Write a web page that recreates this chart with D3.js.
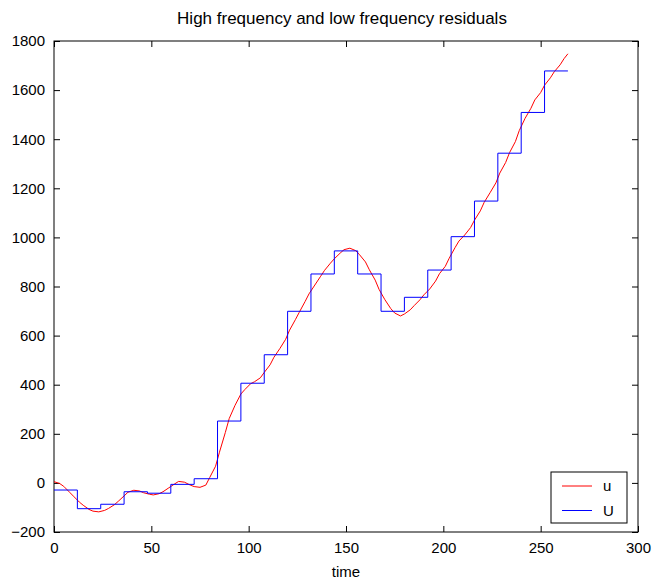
<!DOCTYPE html>
<html>
<head>
<meta charset="utf-8">
<script src="https://cdn.jsdelivr.net/npm/d3@7"></script>
<style>
  body { margin: 0; background: #fff; }
  text { font-family: "Liberation Sans", Arial, sans-serif; }
</style>
</head>
<body>
<div id="chart"></div>
<script>
// data
const uTime = [0, 2, 3, 5, 8, 10, 13, 15, 18, 20, 23, 26, 28, 31, 33, 36, 38, 41, 44, 46,
  49, 51, 54, 56, 59, 62, 64, 67, 70, 72, 75, 78, 80, 83, 85, 88, 90, 93, 96, 98,
  101, 103, 106, 108, 111, 113, 116, 119, 121, 124, 126, 129, 131, 134, 137, 139, 142, 144, 147, 149,
  152, 155, 157, 160, 162, 165, 167, 170, 173, 175, 178, 180, 183, 185, 188, 190, 193, 196, 198, 201,
  203, 206, 208, 211, 214, 216, 219, 221, 224, 227, 229, 232, 234, 237, 239, 242, 245, 247, 250, 252,
  255, 257, 260, 262, 264];
const uValues = [5, 0, -3, -14, -38, -54, -78, -91, -108, -115, -118, -112, -104, -89, -75, -53, -38, -30, -33, -40,
  -46, -49, -44, -36, -20, -4, 6, 3, -9, -15, -18, -9, 22, 68, 125, 205, 262, 316, 362, 380,
  404, 412, 428, 450, 481, 512, 547, 585, 622, 665, 695, 739, 770, 806, 842, 866, 895, 913, 936, 950,
  956, 946, 929, 900, 868, 826, 788, 746, 710, 692, 680, 688, 705, 722, 746, 766, 790, 822, 852, 882,
  915, 958, 985, 1010, 1040, 1070, 1108, 1143, 1182, 1222, 1262, 1305, 1345, 1390, 1435, 1485, 1526, 1560, 1590, 1620,
  1650, 1675, 1703, 1728, 1748];

// low frequency levels, one per block of 12 samples
const UStarts = [0, 12, 24, 36, 48, 60, 72, 84, 96, 108, 120, 132, 144, 156, 168, 180, 192, 204, 216, 228, 240, 252, 264];
const ULevels = [-29, -105, -87, -36, -42, -6, 17, 252, 406, 522, 699, 851, 945, 851, 699, 756, 867, 1003, 1148, 1343, 1509, 1678, 1678];

const xTicks = [0, 50, 100, 150, 200, 250, 300];
const yTicks = [-200, 0, 200, 400, 600, 800, 1000, 1200, 1400, 1600, 1800];
const legendNames = ['u', 'U'];
const legendColors = ['#ff0000', '#0000ff'];

const w = 653, h = 582;
const padLeft = 54, padRight = 638, padTop = 41, padBottom = 532;

const svg = d3.select('#chart')
  .append('svg')
  .attr('width', w)
  .attr('height', h)
  .style('background-color', '#fff');

const xScale = d3.scaleLinear().domain([0, 300]).range([padLeft, padRight]);
const yScale = d3.scaleLinear().domain([-200, 1800]).range([padBottom, padTop]);

// box
svg.append('rect')
  .attr('x', padLeft).attr('y', padTop)
  .attr('width', padRight - padLeft).attr('height', padBottom - padTop)
  .attr('fill', 'none').attr('stroke', '#000').attr('stroke-width', 1);

// axes, ticks pointing inward
const fontSize = '15px';
const fmt = d3.format('d');
const styleAxis = g => {
  g.select('.domain').remove();
  g.selectAll('.tick line').attr('stroke', '#000');
  g.selectAll('.tick text').attr('fill', '#000').style('font-size', fontSize)
    .style('font-family', '"Liberation Sans", Arial, sans-serif');
};

svg.append('g')
  .attr('transform', 'translate(0,' + padBottom + ')')
  .call(d3.axisBottom(xScale).tickValues(xTicks).tickFormat(fmt).tickSizeInner(-6).tickSizeOuter(0).tickPadding(10))
  .call(styleAxis);

svg.append('g')
  .attr('transform', 'translate(0,' + padTop + ')')
  .call(d3.axisTop(xScale).tickValues(xTicks).tickSizeInner(-6).tickSizeOuter(0).tickFormat(''))
  .call(styleAxis);

svg.append('g')
  .attr('transform', 'translate(' + padLeft + ',0)')
  .call(d3.axisLeft(yScale).tickValues(yTicks).tickFormat(fmt).tickSizeInner(-6).tickSizeOuter(0).tickPadding(9))
  .call(styleAxis);

svg.append('g')
  .attr('transform', 'translate(' + padRight + ',0)')
  .call(d3.axisRight(yScale).tickValues(yTicks).tickSizeInner(-6).tickSizeOuter(0).tickFormat(''))
  .call(styleAxis);

// lines
const uLine = d3.line()
  .x((d, i) => xScale(uTime[i]))
  .y(d => yScale(d));

svg.append('path')
  .datum(uValues)
  .attr('d', uLine)
  .attr('fill', 'none')
  .attr('stroke', legendColors[0])
  .attr('stroke-width', 1);

const ULine = d3.line()
  .curve(d3.curveStepAfter)
  .x((d, i) => xScale(UStarts[i]))
  .y(d => yScale(d));

svg.append('path')
  .datum(ULevels)
  .attr('d', ULine)
  .attr('fill', 'none')
  .attr('stroke', legendColors[1])
  .attr('stroke-width', 1);

// title and label
svg.append('text')
  .attr('x', (padLeft + padRight) / 2 - 4).attr('y', 24)
  .attr('text-anchor', 'middle')
  .style('font-size', '17px')
  .text('High frequency and low frequency residuals');

svg.append('text')
  .attr('x', (padLeft + padRight) / 2).attr('y', 577)
  .attr('text-anchor', 'middle')
  .style('font-size', fontSize)
  .text('time');

// legend
const legend = svg.append('g').attr('transform', 'translate(551,472)');
legend.append('rect')
  .attr('width', 76).attr('height', 51)
  .attr('fill', '#fff').attr('stroke', '#000').attr('stroke-width', 1);

legendNames.forEach((name, i) => {
  const y = 14 + i * 24.5;
  legend.append('line')
    .attr('x1', 11).attr('x2', 41).attr('y1', y).attr('y2', y)
    .attr('stroke', legendColors[i]).attr('stroke-width', 1);
  legend.append('text')
    .attr('x', 52).attr('y', y + 5)
    .style('font-size', fontSize)
    .text(name);
});
</script>
</body>
</html>
